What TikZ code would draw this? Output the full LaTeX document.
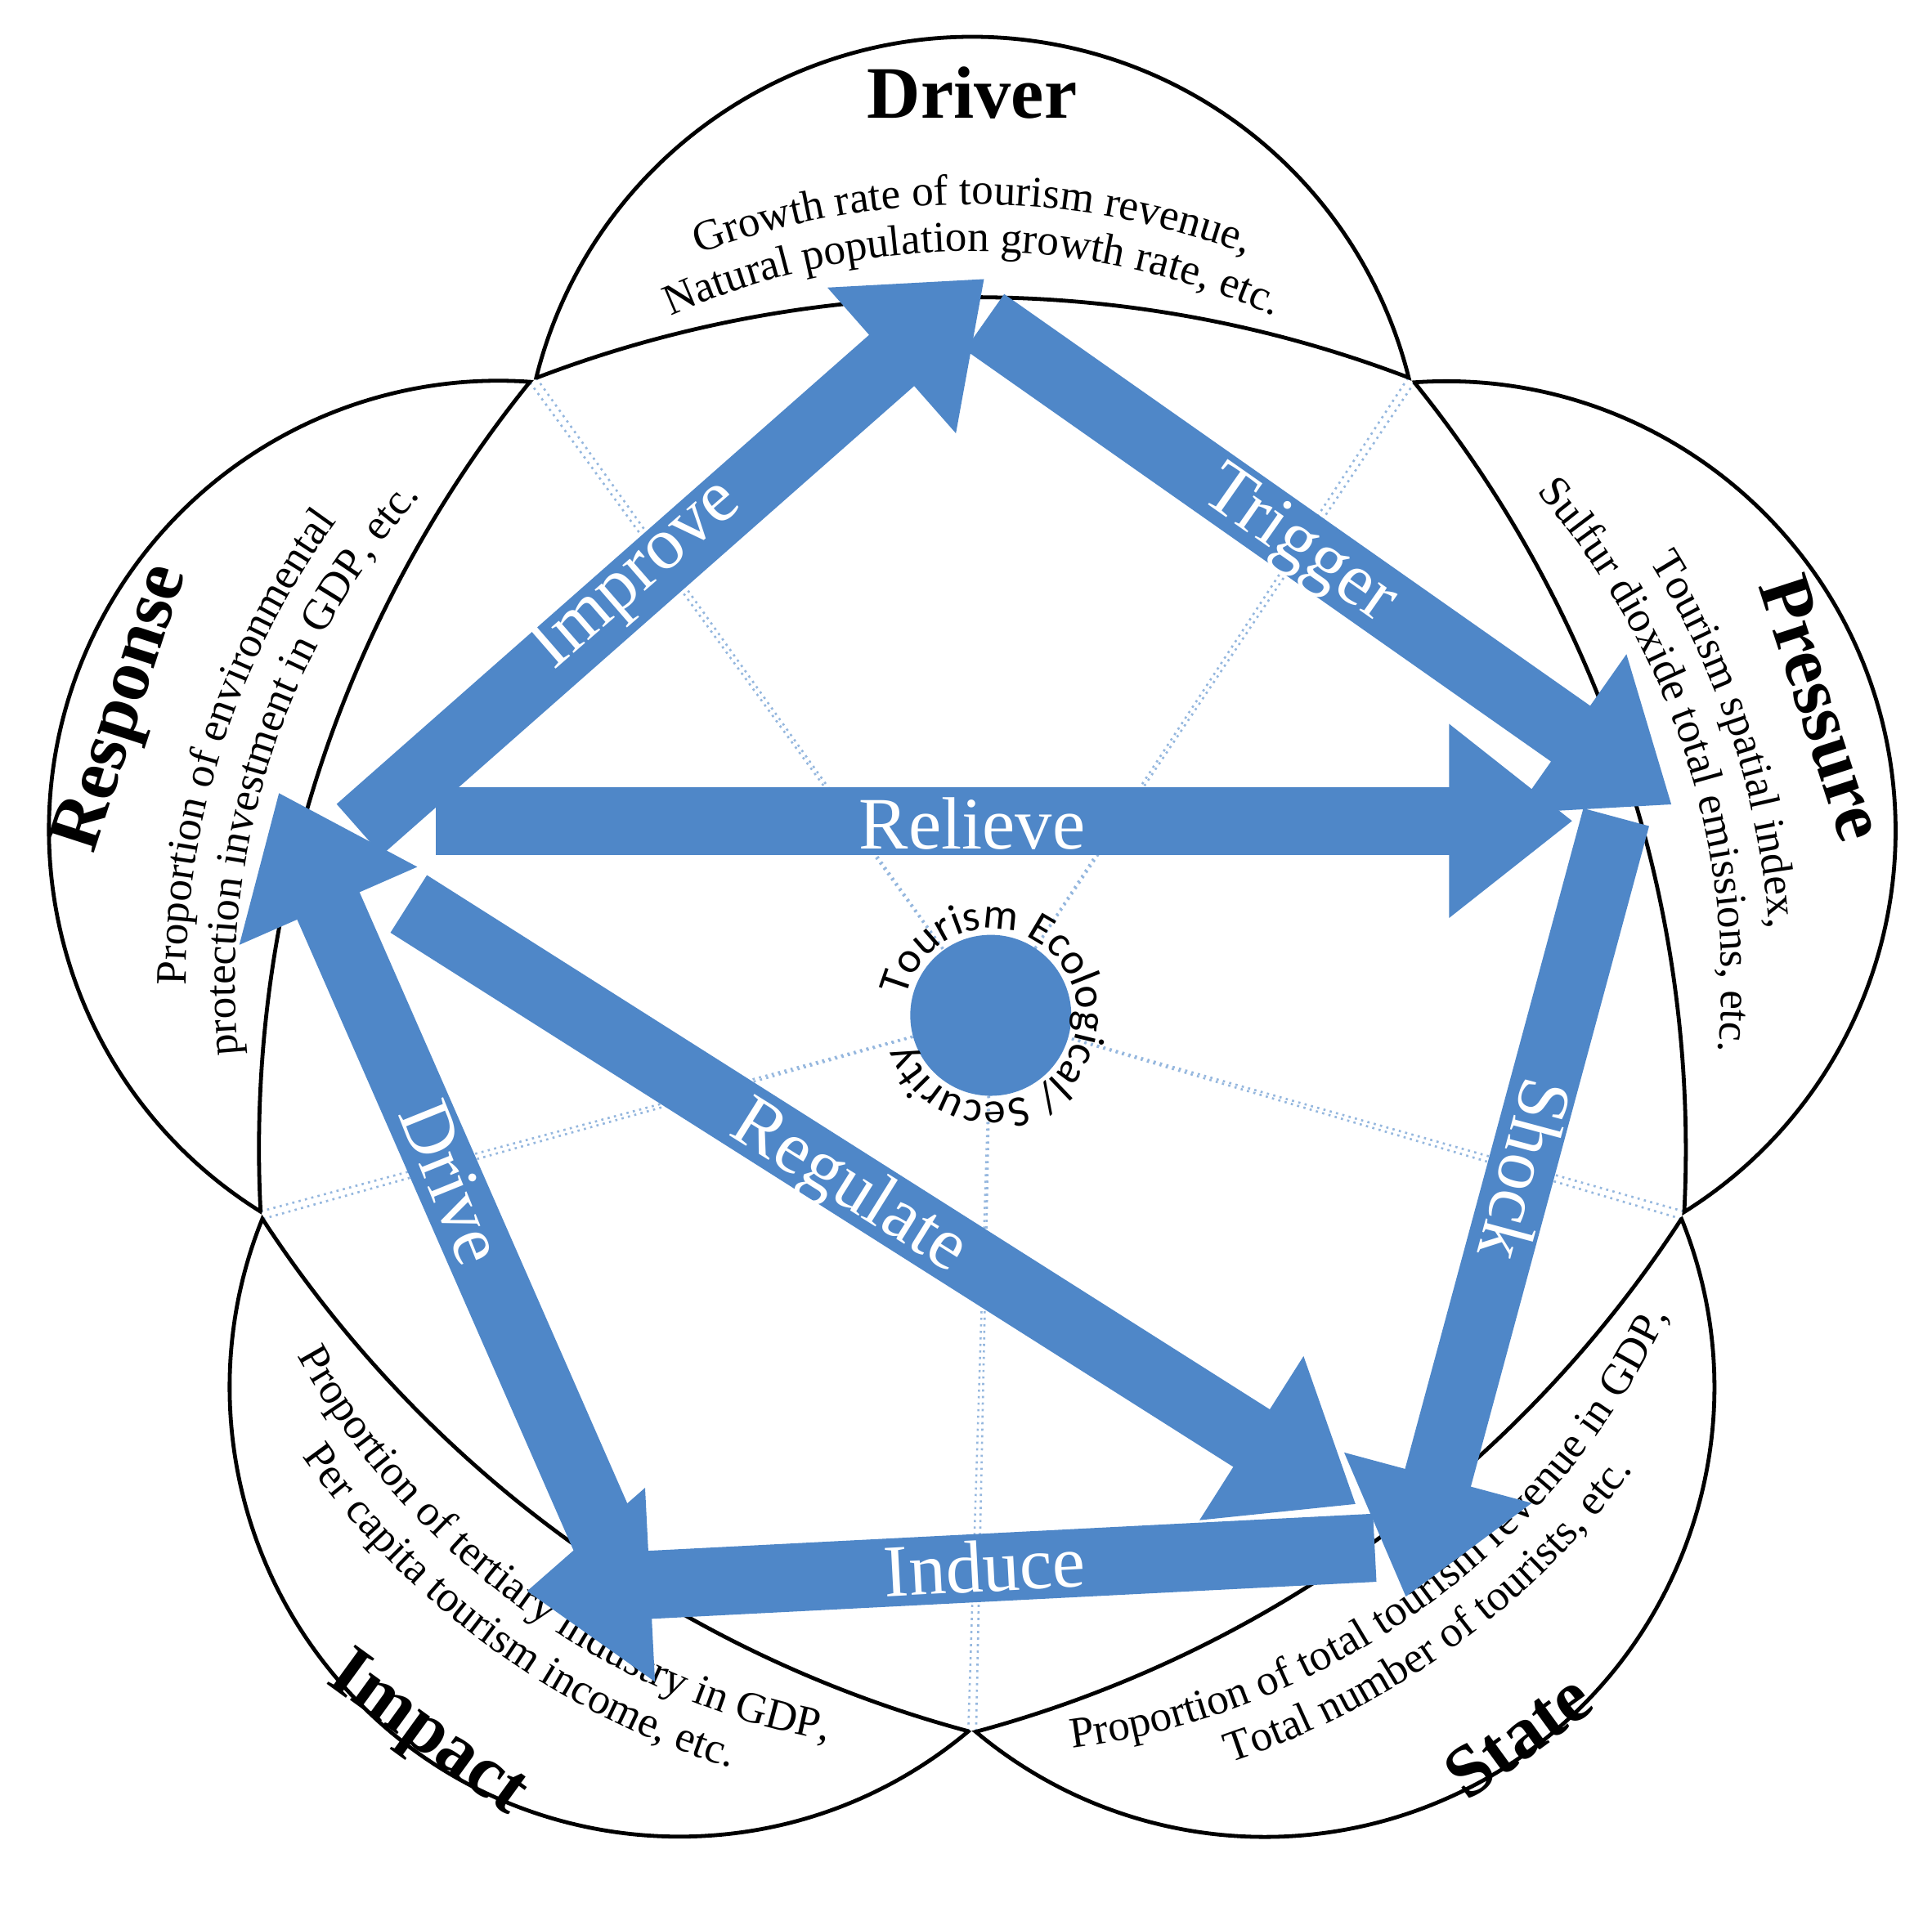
\documentclass[tikz,border=0pt]{standalone}
\usepackage{fontspec}
\setmainfont{Liberation Serif}
\newfontfamily\corefont{Carlito}
\usetikzlibrary{arrows.meta,decorations.text}
\definecolor{flowblue}{RGB}{79,135,200}
\tikzstyle{Petal}=[draw=black,fill=white,line width=0.9pt]
\tikzstyle{Flow}=[draw=flowblue,line width=0.55cm,-{Triangle[width=1.5cm,length=1cm]}]
\tikzstyle{Label}=[text=white,font=\fontsize{17}{20}\selectfont]
\tikzstyle{Title}=[font=\fontsize{17}{20}\selectfont\bfseries]
\tikzstyle{Guide}=[draw=flowblue!60,densely dotted,line width=0.5pt]
\newcommand{\bodyfont}{\fontsize{10}{12}\selectfont}

\begin{document}
\begin{tikzpicture}

    \useasboundingbox (-7.85,-7.56) rectangle (7.75,7.95);

    \coordinate (core) at (0.15,-0.25);

    % guide lines from the petal tips to the core
    \foreach \t in {90,18,-54,-126,162} {
        \coordinate (tipL) at (\t+35.7:6.03);
        \coordinate (tipR) at (\t-35.7:6.03);
        \draw[Guide] (tipL) -- (core);
        \draw[Guide] (tipR) -- (core);
    }

    % petals
    \foreach \t in {0,-72,-144,-216,-288} {
        \path[Petal,rotate=\t] (-3.52,4.90) arc[start angle=166, end angle=14, radius=3.63]
            arc[start angle=69.08, end angle=110.92, radius=9.856] -- cycle;
    }

    % titles
    \node[Title] (drv) at (90:7.2) {Driver};
    \node[Title,rotate=-72] (prs) at (18:7.22) {Pressure};
    \node[Title,rotate=72] (rsp) at (162:7.2) {Response};
    \node[Title,rotate=-36] (imp) at (234:7.5) {Impact};
    \node[Title,rotate=36] (sta) at (306:7.5) {State};

    % indicator texts
    \path[decorate,decoration={text along path,text align=center,
        text={|\bodyfont|Growth rate of tourism revenue,}}]
        (125:6.3) arc[start angle=125, end angle=55, radius=6.3];
    \path[decorate,decoration={text along path,text align=center,
        text={|\bodyfont|Natural population growth rate, etc.}}]
        (125:5.92) arc[start angle=125, end angle=55, radius=5.92];
    \path[decorate,decoration={text along path,text align=center,
        text={|\bodyfont|Tourism spatial index,}}]
        (53:6.45) arc[start angle=53, end angle=-17, radius=6.45];
    \path[decorate,decoration={text along path,text align=center,
        text={|\bodyfont|Sulfur dioxide total emissions, etc.}}]
        (53:6.05) arc[start angle=53, end angle=-17, radius=6.05];
    \path[decorate,decoration={text along path,text align=center,
        text={|\bodyfont|Proportion of environmental}}]
        (197:6.35) arc[start angle=197, end angle=127, radius=6.35];
    \path[decorate,decoration={text along path,text align=center,
        text={|\bodyfont|protection investment in GDP, etc.}}]
        (197:5.95) arc[start angle=197, end angle=127, radius=5.95];
    \path[decorate,decoration={text along path,text align=center,
        text={|\bodyfont|Proportion of tertiary industry in GDP,}}]
        (199:6.22) arc[start angle=199, end angle=269, radius=6.22];
    \path[decorate,decoration={text along path,text align=center,
        text={|\bodyfont|Per capita tourism income, etc.}}]
        (199:6.62) arc[start angle=199, end angle=269, radius=6.62];
    \path[decorate,decoration={text along path,text align=center,
        text={|\bodyfont|Proportion of total tourism revenue in GDP,}}]
        (271:6.22) arc[start angle=271, end angle=341, radius=6.22];
    \path[decorate,decoration={text along path,text align=center,
        text={|\bodyfont|Total number of tourists, etc.}}]
        (271:6.62) arc[start angle=271, end angle=341, radius=6.62];

    % flow arrows
    \coordinate (impT) at (-4.95,1.25);  \coordinate (impH) at (0.10,5.70);
    \coordinate (trgT) at (0.10,5.35);   \coordinate (trgH) at (5.65,1.45);
    \coordinate (relT) at (-4.33,1.32);  \coordinate (relH) at (4.85,1.32);
    \coordinate (shkT) at (5.20,1.35);   \coordinate (shkH) at (3.50,-4.95);
    \coordinate (indT) at (3.25,-4.55);  \coordinate (indH) at (-3.60,-4.90);
    \coordinate (regT) at (-4.55,0.65);  \coordinate (regH) at (3.10,-4.20);
    \coordinate (drvT) at (-2.95,-4.50); \coordinate (drvH) at (-5.60,1.55);

    \draw[Flow] (impT) -- (impH);
    \draw[Flow] (trgT) -- (trgH);
    \draw[Flow] (relT) -- (relH);
    \draw[Flow] (shkT) -- (shkH);
    \draw[Flow] (indT) -- (indH);
    \draw[Flow] (regT) -- (regH);
    \draw[Flow] (drvT) -- (drvH);

    \node[Label,rotate=41] (lImp) at (-2.70,3.30) {Improve};
    \node[Label,rotate=-35] (lTrg) at (2.63,3.53) {Trigger};
    \node[Label] (lRel) at (0,1.30) {Relieve};
    \node[Label,rotate=-105] (lShk) at (4.47,-1.50) {Shock};
    \node[Label,rotate=-32] (lReg) at (-1.00,-1.65) {Regulate};
    \node[Label,rotate=3] (lInd) at (0.10,-4.70) {Induce};
    \node[Label,rotate=-68] (lDrv) at (-4.20,-1.60) {Drive};

    % core
    \node[circle,fill=flowblue,minimum size=1.3cm,inner sep=0pt] (hub) at (core) {};
    \path[decorate,decoration={text along path,text align=left,
        text={|\corefont\fontsize{10}{12}\selectfont|Tourism Ecological/ Security}}]
        ([shift={(168:0.7)}]core) arc[start angle=168, end angle=-190, radius=0.7];

\end{tikzpicture}
\end{document}
